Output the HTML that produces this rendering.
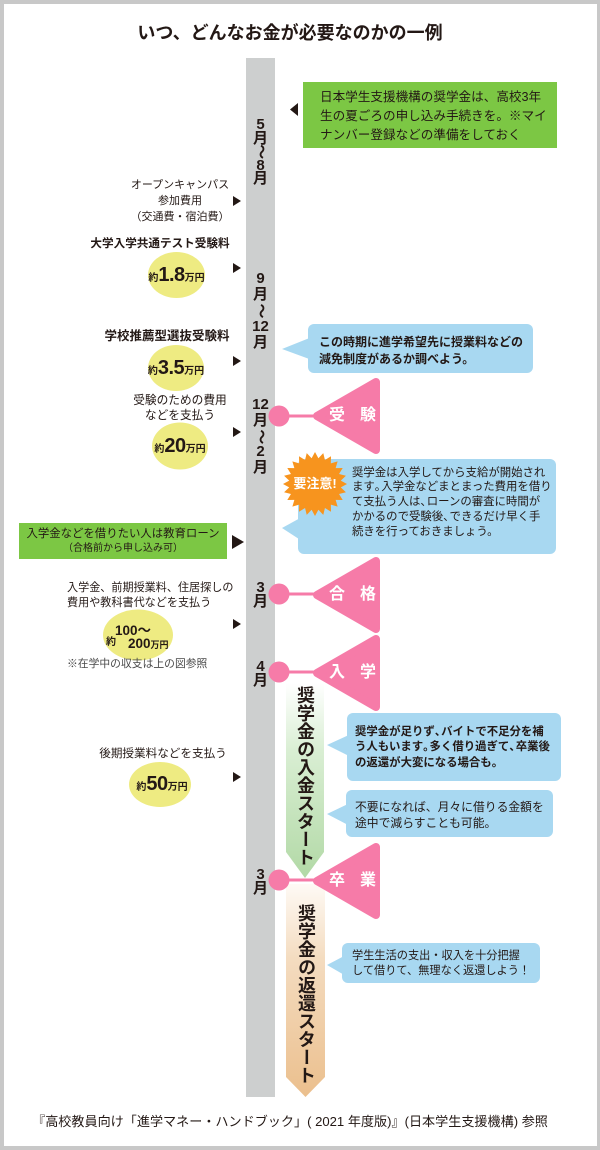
<!DOCTYPE html>
<html><head><meta charset="utf-8">
<style>
body{margin:0;width:600px;height:1150px;background:#c8c8c8;position:relative;overflow:hidden;font-family:"Liberation Sans","Noto Sans CJK JP",sans-serif;color:#231815}
.w{position:absolute;left:4px;top:4px;width:593px;height:1142px;background:#fff}
svg{position:absolute;left:0;top:0}
.t{position:absolute;white-space:nowrap}
.c{transform:translateX(-50%);text-align:center}
.b{font-weight:bold}
.p{letter-spacing:-5px}
.m{position:absolute;left:246px;width:29px;text-align:center;font-weight:bold;font-size:15px;color:#231815}
.m div{height:15px;line-height:15px}
.tl{display:inline-block;transform:rotate(90deg)}
.e{position:absolute;transform:translate(-50%,-50%);white-space:nowrap;font-weight:bold;line-height:22px;height:22px}
.e .s{font-size:10px}
.e .n{font-size:20px;letter-spacing:-0.5px}
.tri{position:absolute;color:#fff;font-weight:bold;font-size:16px;line-height:16px;width:16px;text-align:center}
.v{position:absolute;writing-mode:vertical-rl;font-weight:bold;font-size:18px;line-height:20px;letter-spacing:0;white-space:nowrap}
</style></head><body>
<div class="w"></div>
<svg width="600" height="1150" viewBox="0 0 600 1150">
<defs>
<linearGradient id="gg" x1="0" y1="0" x2="0" y2="1">
<stop offset="0" stop-color="#ffffff"/>
<stop offset="0.35" stop-color="#d9eed3"/>
<stop offset="1" stop-color="#b2d9a6"/>
</linearGradient>
<linearGradient id="og" x1="0" y1="0" x2="0" y2="1">
<stop offset="0" stop-color="#fefaf5"/>
<stop offset="0.35" stop-color="#f4dcc0"/>
<stop offset="1" stop-color="#ebbf8d"/>
</linearGradient>
</defs>
<!-- timeline bar -->
<rect x="246" y="58" width="29" height="1039" fill="#cdcfcf"/>
<!-- top green box -->
<rect x="303" y="82" width="254" height="66" fill="#7cc744"/>
<polygon points="298,103 298,116 290,109.5" fill="#231815"/>
<!-- left arrows -->
<g fill="#231815">
<polygon points="233,196 241,201 233,206"/>
<polygon points="233,263 241,268 233,273"/>
<polygon points="233,356 241,361 233,366"/>
<polygon points="233,427 241,432 233,437"/>
<polygon points="232,535 244,542 232,549"/>
<polygon points="233,619 241,624 233,629"/>
<polygon points="233,772 241,777 233,782"/>
</g>
<!-- yellow ellipses -->
<g fill="#eeeb82">
<ellipse cx="176.5" cy="275" rx="28.5" ry="23"/>
<ellipse cx="176" cy="368" rx="28" ry="23"/>
<ellipse cx="180" cy="446" rx="28" ry="23.5"/>
<ellipse cx="138" cy="635" rx="35" ry="25.5"/>
<ellipse cx="160" cy="784.5" rx="31" ry="22.5"/>
</g>
<!-- left green box -->
<rect x="19" y="523" width="208" height="36" fill="#7cc744"/>
<!-- blue callouts -->
<g fill="#a8d8f1">
<rect x="308" y="324" width="225" height="49" rx="6"/>
<polygon points="312,337 282,349 312,360"/>
<rect x="298" y="459" width="258" height="95" rx="6"/>
<polygon points="302,517 282,528 302,541"/>
<rect x="347" y="713" width="214" height="68" rx="6"/>
<polygon points="351,734 327,745 351,757"/>
<rect x="346" y="790" width="207" height="47" rx="6"/>
<polygon points="350,803 327,814 350,826"/>
<rect x="342" y="943" width="198" height="40" rx="6"/>
<polygon points="346,955 327,965 346,976"/>
</g>
<!-- green vertical arrow -->
<path d="M286,683 H324 V852 L305,878 L286,852 Z" fill="url(#gg)"/>
<!-- orange vertical arrow -->
<path d="M286,884 H325 V1077 L305.5,1097 L286,1077 Z" fill="url(#og)"/>
<!-- pink milestones -->
<g fill="#f67ba8" stroke="#f67ba8">
<g>
<circle cx="279" cy="416" r="10.5" stroke="none"/>
<line x1="285" y1="416" x2="322" y2="416" stroke-width="3"/>
<polygon points="317,416 376,382 376,450" stroke-width="8" stroke-linejoin="round"/>
</g>
<g>
<circle cx="279" cy="594" r="10.5" stroke="none"/>
<line x1="285" y1="594" x2="322" y2="594" stroke-width="3"/>
<polygon points="317,595 376,561 376,629" stroke-width="8" stroke-linejoin="round"/>
</g>
<g>
<circle cx="279" cy="672" r="10.5" stroke="none"/>
<line x1="285" y1="672" x2="322" y2="672" stroke-width="3"/>
<polygon points="317,673 376,639 376,707" stroke-width="8" stroke-linejoin="round"/>
</g>
<g>
<circle cx="279" cy="880" r="10.5" stroke="none"/>
<line x1="285" y1="880" x2="322" y2="880" stroke-width="3"/>
<polygon points="317,881 376,847 376,915" stroke-width="8" stroke-linejoin="round"/>
</g>
</g>
<!-- starburst -->
<polygon transform="translate(315,484)" fill="#f7941e" points="32,0 25.78,3.39 30.91,8.28 24.02,9.95 27.71,16 20.63,15.83 22.63,22.63 15.83,20.63 16,27.71 9.95,24.02 8.28,30.91 3.39,25.78 0,32 -3.39,25.78 -8.28,30.91 -9.95,24.02 -16,27.71 -15.83,20.63 -22.63,22.63 -20.63,15.83 -27.71,16 -24.02,9.95 -30.91,8.28 -25.78,3.39 -32,0 -25.78,-3.39 -30.91,-8.28 -24.02,-9.95 -27.71,-16 -20.63,-15.83 -22.63,-22.63 -15.83,-20.63 -16,-27.71 -9.95,-24.02 -8.28,-30.91 -3.39,-25.78 0,-32 3.39,-25.78 8.28,-30.91 9.95,-24.02 16,-27.71 15.83,-20.63 22.63,-22.63 20.63,-15.83 27.71,-16 24.02,-9.95 30.91,-8.28 25.78,-3.39"/>
</svg>

<!-- title -->
<div class="t c b" style="left:290px;top:21px;font-size:18px;line-height:24px;">いつ、どんなお金が必要なのかの一例</div>

<!-- top green box text -->
<div class="t" style="left:320px;top:87.5px;font-size:12.6px;line-height:19px;">日本学生支援機構の奨学金は、高校3年<br>生の夏ごろの申し込み手続きを。※マイ<br>ナンバー登録などの準備をしておく</div>

<!-- month labels -->
<div class="m" style="top:118px;"><div style="height:13.5px;line-height:13.5px">5</div><div style="height:13.5px;line-height:13.5px">月</div><div style="height:13.5px;line-height:13.5px"><span class="tl">〜</span></div><div style="height:13.5px;line-height:13.5px">8</div><div style="height:13.5px;line-height:13.5px">月</div></div>
<div class="m" style="top:271px;"><div style="height:16px;line-height:16px">9</div><div style="height:16px;line-height:16px">月</div><div style="height:16px;line-height:16px"><span class="tl">〜</span></div><div style="height:16px;line-height:16px">12</div><div style="height:16px;line-height:16px">月</div></div>
<div class="m" style="top:397px;"><div style="height:15.75px;line-height:15.75px">12</div><div style="height:15.75px;line-height:15.75px">月</div><div style="height:15.75px;line-height:15.75px"><span class="tl">〜</span></div><div style="height:15.75px;line-height:15.75px">2</div><div style="height:15.75px;line-height:15.75px">月</div></div>
<div class="m" style="top:581px;"><div style="height:14px;line-height:14px">3</div><div style="height:14px;line-height:14px">月</div></div>
<div class="m" style="top:660px;"><div style="height:13.5px;line-height:13.5px">4</div><div style="height:13.5px;line-height:13.5px">月</div></div>
<div class="m" style="top:868px;"><div style="height:13.5px;line-height:13.5px">3</div><div style="height:13.5px;line-height:13.5px">月</div></div>

<!-- left texts -->
<div class="t c" style="left:180px;top:177px;font-size:11px;line-height:16px;">オープンキャンパス<br>参加費用<br>（交通費・宿泊費）</div>
<div class="t c b" style="left:160px;top:236px;font-size:11.6px;line-height:16px;">大学入学共通テスト受験料</div>
<div class="e" style="left:176.5px;top:275px;"><span class="s">約</span><span class="n">1.8</span><span class="s">万円</span></div>
<div class="t c b" style="left:167px;top:328px;font-size:12.5px;line-height:16px;">学校推薦型選抜受験料</div>
<div class="e" style="left:176px;top:368px;"><span class="s">約</span><span class="n">3.5</span><span class="s">万円</span></div>
<div class="t c" style="left:180px;top:392.5px;font-size:11.7px;line-height:15px;">受験のための費用<br>などを支払う</div>
<div class="e" style="left:180px;top:446px;"><span class="s">約</span><span class="n">20</span><span class="s">万円</span></div>

<div class="t c" style="left:123px;top:527px;font-size:11.4px;line-height:14px;">入学金などを借りたい人は教育ローン<br><span style="font-size:10px">（合格前から申し込み可）</span></div>

<div class="t" style="left:67px;top:580.5px;font-size:11.1px;line-height:15px;">入学金、前期授業料、住居探しの<br>費用や教科書代などを支払う</div>
<div class="t b" style="left:106px;top:636px;font-size:10px;line-height:14px;">約</div>
<div class="t b" style="left:115px;top:623px;font-size:13.5px;line-height:16px;">100〜</div>
<div class="t b" style="left:128px;top:636px;font-size:13.5px;line-height:16px;">200<span style="font-size:9px">万円</span></div>
<div class="t" style="left:67px;top:656.5px;font-size:10.8px;line-height:15px;color:#4a4a4a;">※在学中の収支は上の図参照</div>

<div class="t c" style="left:163px;top:746px;font-size:11.6px;line-height:16px;">後期授業料などを支払う</div>
<div class="e" style="left:162px;top:784px;"><span class="s">約</span><span class="n">50</span><span class="s">万円</span></div>

<!-- pink milestone labels -->
<div class="tri" style="left:329px;top:408px;">受</div><div class="tri" style="left:360px;top:408px;">験</div>
<div class="tri" style="left:329px;top:587px;">合</div><div class="tri" style="left:360px;top:587px;">格</div>
<div class="tri" style="left:329px;top:665px;">入</div><div class="tri" style="left:360px;top:665px;">学</div>
<div class="tri" style="left:329px;top:873px;">卒</div><div class="tri" style="left:360px;top:873px;">業</div>

<!-- starburst label -->
<div class="t c b" style="left:315px;top:476px;font-size:13px;line-height:16px;color:#fff;">要注意!</div>

<!-- blue callout texts -->
<div class="t b" style="left:319px;top:333.5px;font-size:12px;line-height:17px;">この時期に進学希望先に授業料などの<br>減免制度があるか調べよう。</div>
<div class="t" style="left:352px;top:465.5px;font-size:11.4px;line-height:14.8px;">奨学金は入学してから支給が開始され<br>ます<span class="p">。</span>入学金などまとまった費用を借り<br>て支払う人は<span class="p">、</span>ローンの審査に時間が<br>かかるので受験後<span class="p">、</span>できるだけ早く手<br>続きを行っておきましょう。</div>
<div class="t b" style="left:355px;top:724.5px;font-size:11.4px;line-height:15.5px;">奨学金が足りず<span class="p">、</span>バイトで不足分を補<br>う人もいます<span class="p">。</span>多く借り過ぎて<span class="p">、</span>卒業後<br>の返還が大変になる場合も。</div>
<div class="t" style="left:355px;top:799px;font-size:11.8px;line-height:16px;">不要になれば、月々に借りる金額を<br>途中で減らすことも可能。</div>
<div class="t" style="left:352px;top:948.5px;font-size:11.2px;line-height:15px;">学生生活の支出・収入を十分把握<br>して借りて、無理なく返還しよう！</div>

<!-- vertical texts -->
<div class="v" style="left:295px;top:686px;">奨学金の入金スタート</div>
<div class="v" style="left:296px;top:904px;">奨学金の返還スタート</div>

<!-- footer -->
<div class="t c" style="left:290px;top:1114px;font-size:13.1px;line-height:16px;">『高校教員向け「進学マネー・ハンドブック」( 2021 年度版)』(日本学生支援機構) 参照</div>
</body></html>
